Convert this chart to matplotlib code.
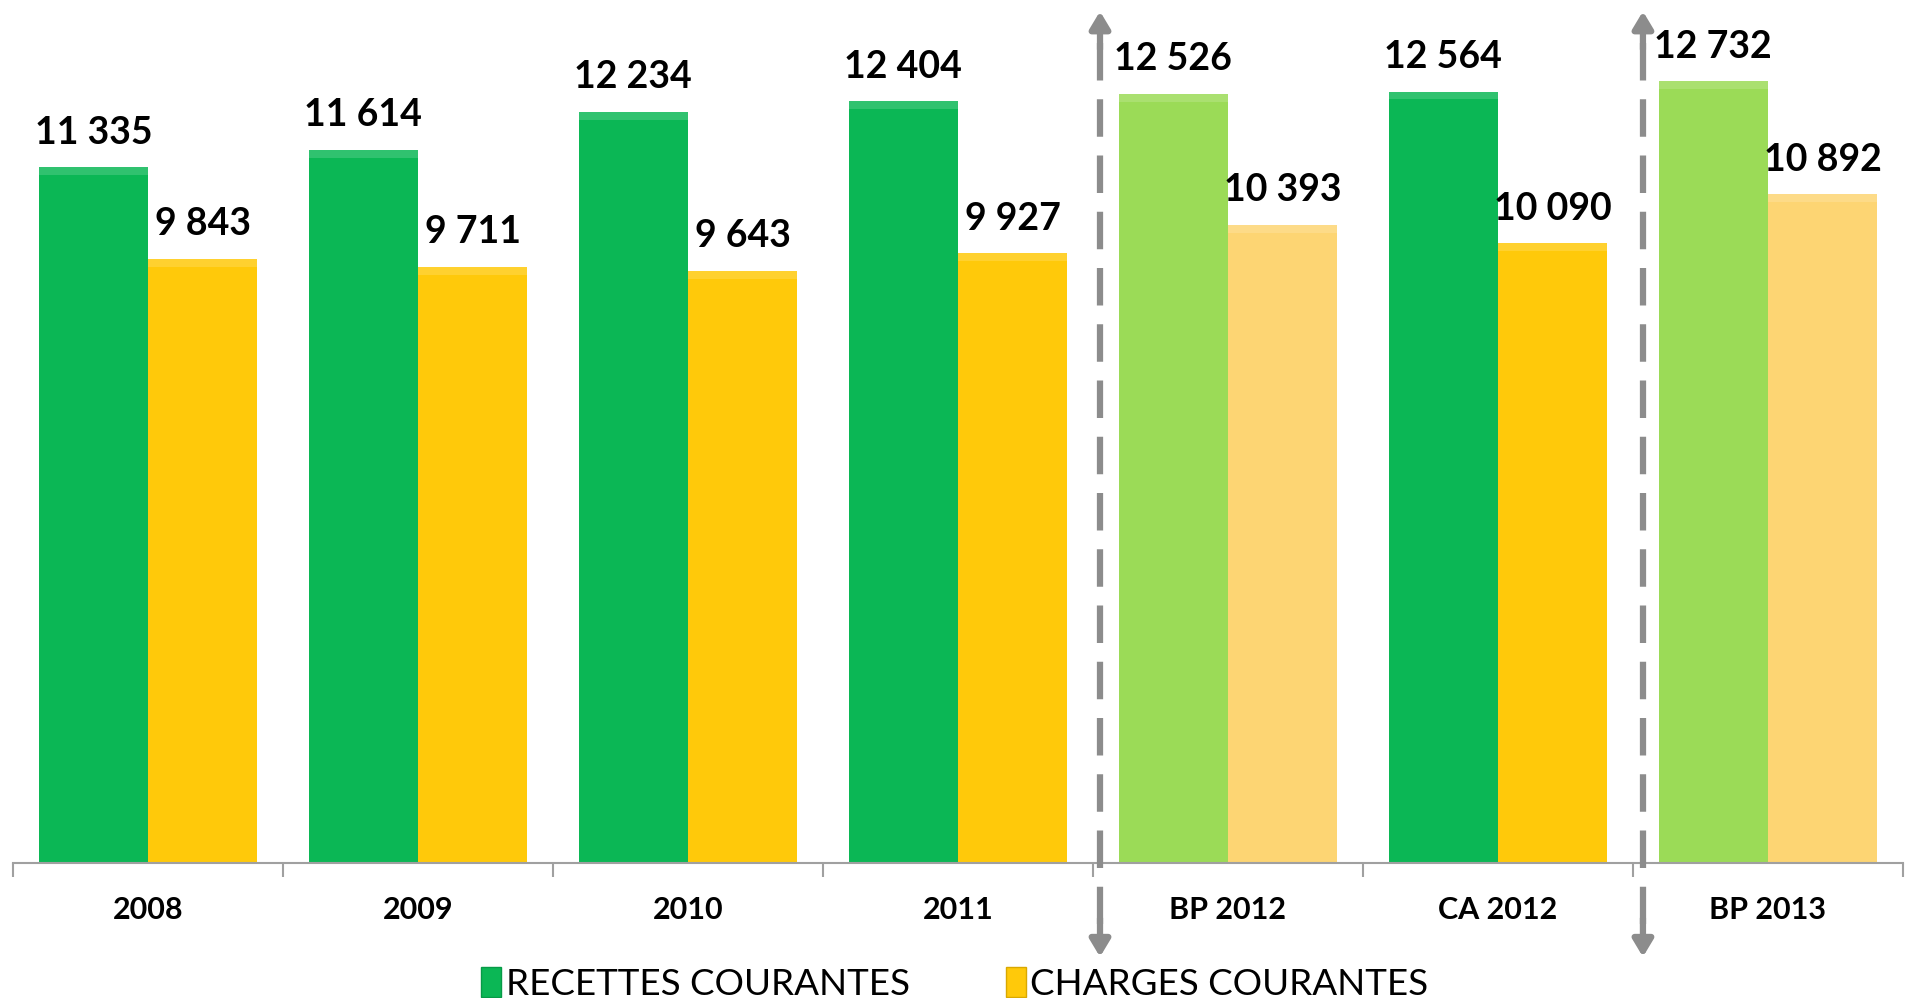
import matplotlib.pyplot as plt
import matplotlib.colors as mc
from matplotlib.patches import Patch
import numpy as np

# ===== données =====
CATEGORIES = ["2008", "2009", "2010", "2011", "BP 2012", "CA 2012", "BP 2013"]
RECETTES = [11335, 11614, 12234, 12404, 12526, 12564, 12732]
CHARGES = [9843, 9711, 9643, 9927, 10393, 10090, 10892]
# les budgets primitifs (BP) sont en couleurs claires
IS_BP = [False, False, False, False, True, False, True]
LEGEND_LABELS = ["RECETTES COURANTES", "CHARGES COURANTES"]

GREEN = "#0bb755"
GREEN_LIGHT = "#9bdb57"
YELLOW = "#ffc90a"
YELLOW_LIGHT = "#fdd573"

plt.rcParams["font.family"] = ["Lato", "DejaVu Sans"]


def fmt(v: int) -> str:
    # séparateur de milliers à la française
    return f"{v:,}".replace(",", " ")


def lighten(color: str, amount: float) -> tuple:
    r, g, b = mc.to_rgb(color)
    return (r + (1 - r) * amount, g + (1 - g) * amount, b + (1 - b) * amount)


fig = plt.figure(figsize=(19.21, 9.98), dpi=100)
ax = fig.add_axes([0.0068, 0.1353, 0.9838, 0.8552])

x = np.arange(len(CATEGORIES))
w = 0.405
col_rec = [GREEN_LIGHT if bp else GREEN for bp in IS_BP]
col_chg = [YELLOW_LIGHT if bp else YELLOW for bp in IS_BP]

ax.bar(x - w / 2, RECETTES, width=w, color=col_rec, linewidth=0, zorder=2)
ax.bar(x + w / 2, CHARGES, width=w, color=col_chg, linewidth=0, zorder=2)

# léger biseau clair en haut des barres
bevel = 130
ax.bar(x - w / 2, [bevel] * len(x), bottom=np.array(RECETTES) - bevel, width=w,
       color=[lighten(c, 0.15) for c in col_rec], linewidth=0, zorder=3)
ax.bar(x + w / 2, [bevel] * len(x), bottom=np.array(CHARGES) - bevel, width=w,
       color=[lighten(c, 0.15) for c in col_chg], linewidth=0, zorder=3)

for xi, v in zip(x - w / 2, RECETTES):
    ax.text(xi, v + 560, fmt(v), ha="center", va="center", fontsize=27,
            fontweight="bold", color="black", zorder=5)
for xi, v in zip(x + w / 2, CHARGES):
    ax.text(xi, v + 560, fmt(v), ha="center", va="center", fontsize=27,
            fontweight="bold", color="black", zorder=5)

ax.set_xlim(-0.5, len(CATEGORIES) - 0.5)
ax.set_ylim(0, 13900)

for s in ["top", "right", "left"]:
    ax.spines[s].set_visible(False)
ax.spines["bottom"].set_color("#a0a0a0")
ax.spines["bottom"].set_linewidth(1.5)
ax.set_yticks([])

# graduations aux frontières de catégories, libellés au centre
ax.set_xticks(np.arange(-0.5, len(CATEGORIES), 1.0))
ax.set_xticklabels([])
ax.tick_params(axis="x", which="major", length=10, width=1.5, color="#a0a0a0",
               direction="out")
ax.set_xticks(x, minor=True)
ax.set_xticklabels(CATEGORIES, minor=True, fontsize=22, fontweight="bold")
ax.tick_params(axis="x", which="minor", length=0, pad=24)

# flèches pointillées de séparation
for xa in [3.526, 5.537]:
    ax.plot([xa, xa], [13350, -1000], color="#8c8c8c", lw=4.5,
            linestyle=(0, (6, 3)), clip_on=False, zorder=4)
    ax.annotate("", xy=(xa, 13870), xytext=(xa, 13250), xycoords="data",
                arrowprops=dict(arrowstyle="-|>,head_length=1.0,head_width=0.6",
                                color="#8c8c8c", lw=4.5, shrinkA=0, shrinkB=0),
                annotation_clip=False, zorder=4)
    ax.annotate("", xy=(xa, -1530), xytext=(xa, -900), xycoords="data",
                arrowprops=dict(arrowstyle="-|>,head_length=1.0,head_width=0.6",
                                color="#8c8c8c", lw=4.5, shrinkA=0, shrinkB=0),
                annotation_clip=False, zorder=4)

handles = [Patch(facecolor=GREEN, edgecolor="#079a47"),
           Patch(facecolor=YELLOW, edgecolor="#d9a800")]
fig.legend(handles, LEGEND_LABELS, loc="center", bbox_to_anchor=(0.497, 0.014),
           ncol=2, frameon=False, fontsize=26.5, handlelength=0.55,
           handleheight=0.85, handletextpad=0.12, columnspacing=2.6,
           borderaxespad=0)

fig.savefig("out.png", dpi=100)
